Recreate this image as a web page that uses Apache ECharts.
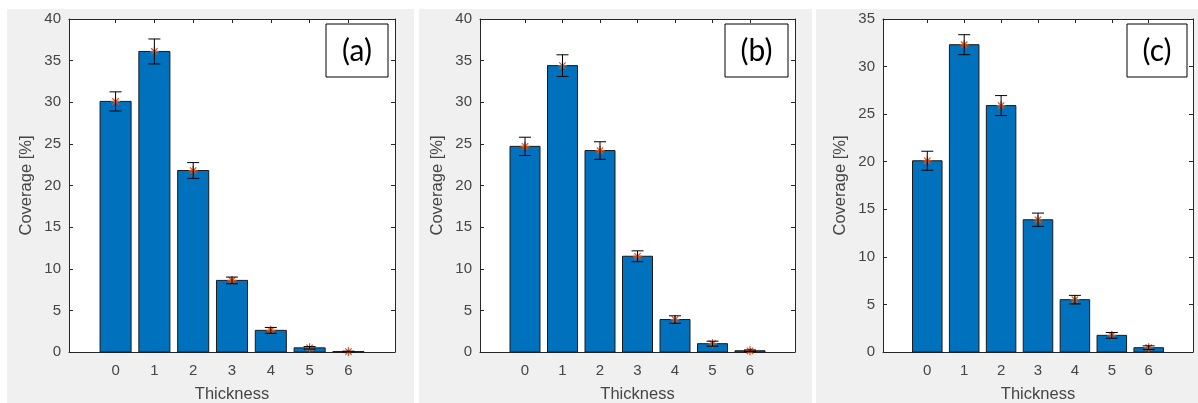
<!DOCTYPE html>
<html>
<head>
<meta charset="utf-8">
<script src="https://cdn.jsdelivr.net/npm/echarts@6/dist/echarts.min.js"></script>
<style>
html,body{margin:0;padding:0;background:#fff;}
#chart{width:1198px;height:403px;}
</style>
</head>
<body>
<div id="chart"></div>
<script>
// ---- data ----
const thickness = [0, 1, 2, 3, 4, 5, 6];
const coverageA = [30.1, 36.1, 21.8, 8.6, 2.6, 0.5, 0.05];
const errA      = [1.15, 1.5, 0.95, 0.4, 0.35, 0.15, 0.05];
const coverageB = [24.7, 34.4, 24.2, 11.5, 3.9, 1.0, 0.15];
const errB      = [1.1, 1.3, 1.05, 0.65, 0.45, 0.3, 0.1];
const coverageC = [20.1, 32.3, 25.9, 13.9, 5.5, 1.75, 0.45];
const errC      = [1.0, 1.05, 1.05, 0.7, 0.45, 0.3, 0.2];
const panelLabels = ['(a)', '(b)', '(c)'];
const yMaxes = [40, 40, 35];
const xLabel = 'Thickness';
const yLabel = 'Coverage [%]';

// ---- layout ----
const grids = [
  {left: 69, top: 19, width: 326, height: 333},
  {left: 480, top: 19, width: 315, height: 333},
  {left: 883, top: 19, width: 310, height: 333}
];
const panels = [
  {x: 7, y: 9, w: 407, h: 394},
  {x: 419, y: 9, w: 393, h: 394},
  {x: 816, y: 9, w: 382, h: 394}
];
const boxes = [
  {x: 326, y: 24, w: 62, h: 53},
  {x: 725, y: 24, w: 63, h: 53},
  {x: 1127, y: 24, w: 60, h: 53}
];
const series = [[coverageA, errA], [coverageB, errB], [coverageC, errC]];

const axisColor = '#262626';
const labelColor = '#454545';
const font = '"Liberation Sans", Arial, sans-serif';

const xAxes = [], yAxes = [], allSeries = [], graphics = [];

panels.forEach(p => graphics.push({
  type: 'rect', z: -10, silent: true,
  shape: {x: p.x, y: p.y, width: p.w, height: p.h},
  style: {fill: '#f0f0f0'}
}));

grids.forEach((g, i) => {
  const axLine = {show: true, onZero: false, lineStyle: {color: axisColor, width: 1}};
  const tick = {show: true, inside: true, length: 4, lineStyle: {color: axisColor}, customValues: thickness};
  xAxes.push({
    type: 'value', gridIndex: i, min: -1.2, max: 7.2, position: 'bottom',
    axisLine: axLine, axisTick: tick, splitLine: {show: false},
    axisLabel: {customValues: thickness, margin: 11, color: labelColor, fontSize: 15, fontFamily: font},
    name: xLabel, nameLocation: 'middle', nameGap: 34,
    nameTextStyle: {color: labelColor, fontSize: 16.5, fontFamily: font}
  });
  xAxes.push({
    type: 'value', gridIndex: i, min: -1.2, max: 7.2, position: 'top',
    axisLine: axLine, axisTick: tick, splitLine: {show: false},
    axisLabel: {show: false}
  });
  const ytick = {show: true, inside: true, length: 4, lineStyle: {color: axisColor}};
  yAxes.push({
    type: 'value', gridIndex: i, min: 0, max: yMaxes[i], interval: 5, position: 'left',
    axisLine: axLine, axisTick: ytick, splitLine: {show: false},
    axisLabel: {margin: 8, color: labelColor, fontSize: 15, fontFamily: font},
    name: yLabel, nameLocation: 'middle', nameGap: 34,
    nameTextStyle: {color: labelColor, fontSize: 16.5, fontFamily: font}
  });
  yAxes.push({
    type: 'value', gridIndex: i, min: 0, max: yMaxes[i], interval: 5, position: 'right',
    axisLine: axLine, axisTick: ytick, splitLine: {show: false},
    axisLabel: {show: false}
  });

  const vals = series[i][0], errs = series[i][1];
  const data = thickness.map((t, k) => [t, vals[k], errs[k]]);

  // bars
  allSeries.push({
    type: 'custom', xAxisIndex: 2 * i, yAxisIndex: 2 * i, data: data,
    encode: {x: 0, y: 1}, z: 2,
    renderItem: (params, api) => {
      const x = api.value(0), y = api.value(1);
      const p0 = api.coord([x - 0.4, y]);
      const p1 = api.coord([x + 0.4, 0]);
      return {
        type: 'rect',
        shape: {x: p0[0], y: p0[1], width: p1[0] - p0[0], height: p1[1] - p0[1]},
        style: {fill: '#0072BD', stroke: '#1a1a1a', lineWidth: 1}
      };
    }
  });
  // asterisk markers + error bars
  allSeries.push({
    type: 'custom', xAxisIndex: 2 * i, yAxisIndex: 2 * i, data: data,
    encode: {x: 0, y: 1}, z: 3,
    renderItem: (params, api) => {
      const x = api.value(0), y = api.value(1), e = api.value(2);
      const c = api.coord([x, y]);
      const top = api.coord([x, y + e]);
      const bot = api.coord([x, y - e]);
      const s = 4.5, d = 3.2, cap = 6;
      const orange = {stroke: '#D95319', lineWidth: 1.2};
      const black = {stroke: '#000', lineWidth: 1};
      return {
        type: 'group',
        children: [
          {type: 'line', shape: {x1: c[0] - s, y1: c[1], x2: c[0] + s, y2: c[1]}, style: orange},
          {type: 'line', shape: {x1: c[0], y1: c[1] - s, x2: c[0], y2: c[1] + s}, style: orange},
          {type: 'line', shape: {x1: c[0] - d, y1: c[1] - d, x2: c[0] + d, y2: c[1] + d}, style: orange},
          {type: 'line', shape: {x1: c[0] - d, y1: c[1] + d, x2: c[0] + d, y2: c[1] - d}, style: orange},
          {type: 'line', shape: {x1: top[0], y1: top[1], x2: bot[0], y2: bot[1]}, style: black},
          {type: 'line', shape: {x1: top[0] - cap, y1: top[1], x2: top[0] + cap, y2: top[1]}, style: black},
          {type: 'line', shape: {x1: bot[0] - cap, y1: bot[1], x2: bot[0] + cap, y2: bot[1]}, style: black}
        ]
      };
    }
  });

  const b = boxes[i];
  graphics.push({
    type: 'rect', z: 100,
    shape: {x: b.x, y: b.y, width: b.w, height: b.h},
    style: {fill: '#fff', stroke: '#000', lineWidth: 1}
  });
  graphics.push({
    type: 'text', z: 101, x: b.x + b.w / 2, y: b.y + b.h / 2 + 1,
    style: {text: panelLabels[i], fill: '#000', font: '30px Lato, "Open Sans", sans-serif',
            align: 'center', verticalAlign: 'middle'}
  });
});

const chart = echarts.init(document.getElementById('chart'));
chart.setOption({
  animation: false,
  backgroundColor: '#fff',
  grid: grids.map(g => Object.assign({show: true, backgroundColor: '#fff', borderWidth: 0,
                                      containLabel: false, outerBoundsMode: 'none'}, g)),
  xAxis: xAxes,
  yAxis: yAxes,
  series: allSeries,
  graphic: graphics
});
</script>
</body>
</html>
